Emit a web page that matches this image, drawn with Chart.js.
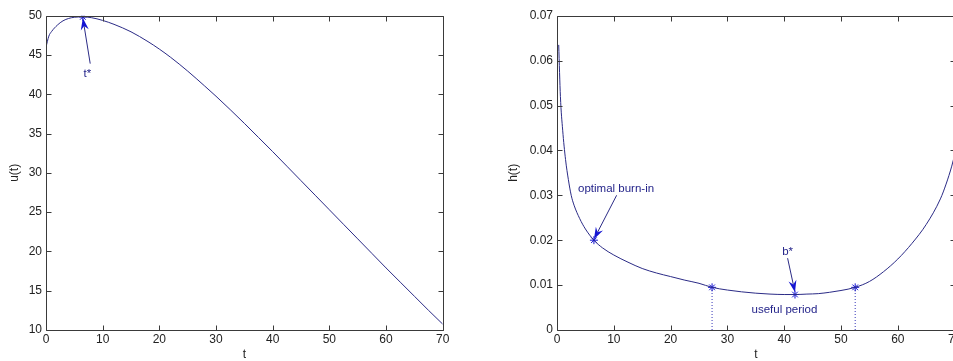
<!DOCTYPE html>
<html>
<head>
<meta charset="utf-8">
<script src="https://cdn.jsdelivr.net/npm/chart.js@4.4.1/dist/chart.umd.min.js"></script>
<style>
html, body { margin: 0; padding: 0; background: #fff; overflow: hidden; width: 953px; height: 361px; }
canvas { position: absolute; top: 0; }
#left { left: 0; }
#right { left: 490px; }
</style>
</head>
<body>
<canvas id="left" width="470" height="361"></canvas>
<canvas id="right" width="480" height="361"></canvas>
<script>
// u(t) curve, left panel
const uTime = [0, 0.5, 1, 2, 3, 4, 5, 6.5, 8, 10, 12, 15, 18, 20, 22, 25, 28, 30, 32.5, 35, 37.5, 40, 42.5, 45, 47.5, 50, 52.5, 55, 57.5, 60, 62.5, 65, 67.5, 70];
const uValues = [46.0, 47.4, 48.0, 48.8, 49.35, 49.65, 49.8, 49.85, 49.75, 49.4, 48.9, 47.95, 46.7, 45.75, 44.7, 42.95, 41.05, 39.75, 38.05, 36.3, 34.5, 32.7, 30.85, 29.0, 27.15, 25.3, 23.45, 21.6, 19.75, 17.9, 16.1, 14.3, 12.5, 10.75];
const tStar = [6.5];
const uStar = [49.85];

// h(t) curve, right panel
const hTime = [0.3, 0.6, 1, 1.5, 2, 2.5, 3, 4, 5, 6.5, 8, 10, 12.5, 15, 17.5, 20, 22.5, 25, 27.3, 30, 32.5, 35, 37.5, 40, 41.9, 44, 46, 48, 50, 52.5, 55, 57.5, 60, 62.5, 65, 67.5, 68.5, 69.5, 70];
const hValues = [0.0635, 0.052, 0.0445, 0.038, 0.0335, 0.030, 0.0278, 0.0248, 0.0225, 0.0200, 0.0183, 0.0167, 0.0151, 0.0137, 0.0127, 0.0119, 0.0111, 0.0104, 0.0095, 0.0089, 0.0085, 0.0082, 0.0080, 0.0079, 0.0079, 0.0080, 0.0081, 0.0084, 0.0088, 0.0095, 0.0108, 0.0130, 0.0158, 0.0193, 0.0235, 0.0292, 0.0325, 0.0365, 0.0390];
const markTime = [6.5, 27.3, 41.9, 52.5];
const markValues = [0.0200, 0.0095, 0.0079, 0.0095];
const dropTime = [27.3, 52.5];
const dropValues = [0.0095, 0.0095];

// text annotations (data coordinates)
const leftNotes = [
    { text: 't*', at: [7.3, 42.6], from: [7.8, 43.9], to: [6.5, 49.7] }
];
const rightNotes = [
    { text: 'optimal burn-in', at: [10.4, 0.0314], from: [10.5, 0.0300], to: [6.5, 0.0202] },
    { text: 'b*', at: [40.6, 0.0174], from: [40.6, 0.0160], to: [41.9, 0.0084] },
    { text: 'useful period', at: [40.05, 0.0046] }
];

const lineColor = '#2b2b86';
const headColor = '#1414d2';
const textColor = '#24248a';
const family = "'Liberation Sans', Arial, sans-serif";
const font = { family: family, size: 12 };
const noteFont = '11.5px ' + family;

const toPoints = (xs, ys) => xs.map((x, i) => ({ x: x, y: ys[i] }));

// box + inward ticks like matlab
const matlabAxes = {
    id: 'matlabAxes',
    afterDatasetsDraw(chart) {
        const { ctx, chartArea: a, scales: { x, y } } = chart;
        const L = Math.round(a.left) + 0.5, R = Math.round(a.right) + 0.5;
        const T = Math.round(a.top) + 0.5, B = Math.round(a.bottom) + 0.5;
        ctx.save();
        ctx.strokeStyle = '#3a3a3a';
        ctx.lineWidth = 1;
        ctx.beginPath();
        x.ticks.forEach(t => {
            const px = Math.round(x.getPixelForValue(t.value)) + 0.5;
            ctx.moveTo(px, B); ctx.lineTo(px, B - 5);
            ctx.moveTo(px, T); ctx.lineTo(px, T + 5);
        });
        y.ticks.forEach(t => {
            const py = Math.round(y.getPixelForValue(t.value)) + 0.5;
            ctx.moveTo(L, py); ctx.lineTo(L + 5, py);
            ctx.moveTo(R, py); ctx.lineTo(R - 5, py);
        });
        ctx.rect(L, T, R - L, B - T);
        ctx.stroke();
        ctx.restore();
    }
};

function drawArrow(ctx, x0, y0, x1, y1) {
    const ang = Math.atan2(y1 - y0, x1 - x0);
    const len = 12, half = 4, notch = 8;
    ctx.strokeStyle = lineColor;
    ctx.lineWidth = 1;
    ctx.beginPath();
    ctx.moveTo(x0, y0);
    ctx.lineTo(x1 - Math.cos(ang) * notch, y1 - Math.sin(ang) * notch);
    ctx.stroke();
    ctx.save();
    ctx.translate(x1, y1);
    ctx.rotate(ang);
    ctx.fillStyle = headColor;
    ctx.beginPath();
    ctx.moveTo(0, 0);
    ctx.lineTo(-len, half);
    ctx.lineTo(-notch, 0);
    ctx.lineTo(-len, -half);
    ctx.closePath();
    ctx.fill();
    ctx.restore();
}

const notesPlugin = {
    id: 'notes',
    afterDraw(chart, args, opts) {
        const { ctx, scales: { x, y } } = chart;
        (opts.items || []).forEach(n => {
            if (n.from) {
                drawArrow(ctx, x.getPixelForValue(n.from[0]), y.getPixelForValue(n.from[1]),
                    x.getPixelForValue(n.to[0]), y.getPixelForValue(n.to[1]));
            }
            ctx.save();
            ctx.font = noteFont;
            ctx.fillStyle = textColor;
            ctx.textAlign = 'center';
            ctx.textBaseline = 'middle';
            ctx.fillText(n.text, x.getPixelForValue(n.at[0]), y.getPixelForValue(n.at[1]));
            ctx.restore();
        });
    }
};

function makeOptions(cfg) {
    return {
        responsive: false,
        animation: false,
        events: [],
        layout: { padding: cfg.padding },
        plugins: { legend: { display: false }, tooltip: { enabled: false }, notes: { items: cfg.notes } },
        scales: {
            x: {
                type: 'linear', min: 0, max: 70,
                afterFit: s => { s.height = 31; },
                grid: { display: false, drawTicks: false },
                border: { display: false },
                ticks: { stepSize: 10, padding: 2, color: '#222', font: font, maxRotation: 0 },
                title: { display: true, text: 't', color: '#222', font: { ...font, lineHeight: 1 }, padding: 0 }
            },
            y: {
                min: cfg.yMin, max: cfg.yMax,
                afterFit: s => { s.width = cfg.yWidth; },
                grid: { display: false, drawTicks: false },
                border: { display: false },
                ticks: { stepSize: cfg.yStep, padding: 4, color: '#222', font: font, callback: cfg.fmt },
                title: { display: true, text: cfg.yTitle, color: '#222', font: font, padding: { top: cfg.titlePad, bottom: 0 } }
            }
        }
    };
}

new Chart(document.getElementById('left'), {
    type: 'line',
    data: {
        datasets: [
            {
                data: toPoints(uTime, uValues),
                borderColor: lineColor, borderWidth: 1, pointRadius: 0,
                cubicInterpolationMode: 'monotone'
            },
            {
                data: toPoints(tStar, uStar), showLine: false,
                pointStyle: 'star', pointRadius: 4, pointBorderColor: headColor, pointBorderWidth: 1
            }
        ]
    },
    options: makeOptions({
        padding: { left: 0, top: 15.7, right: 27.3, bottom: 0 },
        yMin: 10, yMax: 50, yStep: 5, yWidth: 46, yTitle: 'u(t)', titlePad: 7.5,
        fmt: v => String(v),
        notes: leftNotes
    }),
    plugins: [matlabAxes, notesPlugin]
});

const dropSets = dropTime.map((t, i) => ({
    data: toPoints([t, t], [0, dropValues[i]]),
    borderColor: '#3636b8', borderWidth: 1, borderDash: [1, 2], pointRadius: 0
}));

new Chart(document.getElementById('right'), {
    type: 'line',
    data: {
        datasets: [
            {
                data: toPoints(hTime, hValues),
                borderColor: lineColor, borderWidth: 1, pointRadius: 0,
                cubicInterpolationMode: 'monotone'
            },
            ...dropSets,
            {
                data: toPoints(markTime, markValues), showLine: false,
                pointStyle: 'star', pointRadius: 4, pointBorderColor: headColor, pointBorderWidth: 1
            }
        ]
    },
    options: makeOptions({
        padding: { left: 10, top: 15.7, right: 15.4, bottom: 0 },
        yMin: 0, yMax: 0.07, yStep: 0.01, yWidth: 57, yTitle: 'h(t)', titlePad: 6,
        fmt: v => (Math.abs(v) < 1e-9 ? '0' : Number(v).toFixed(2)),
        notes: rightNotes
    }),
    plugins: [matlabAxes, notesPlugin]
});
</script>
</body>
</html>
